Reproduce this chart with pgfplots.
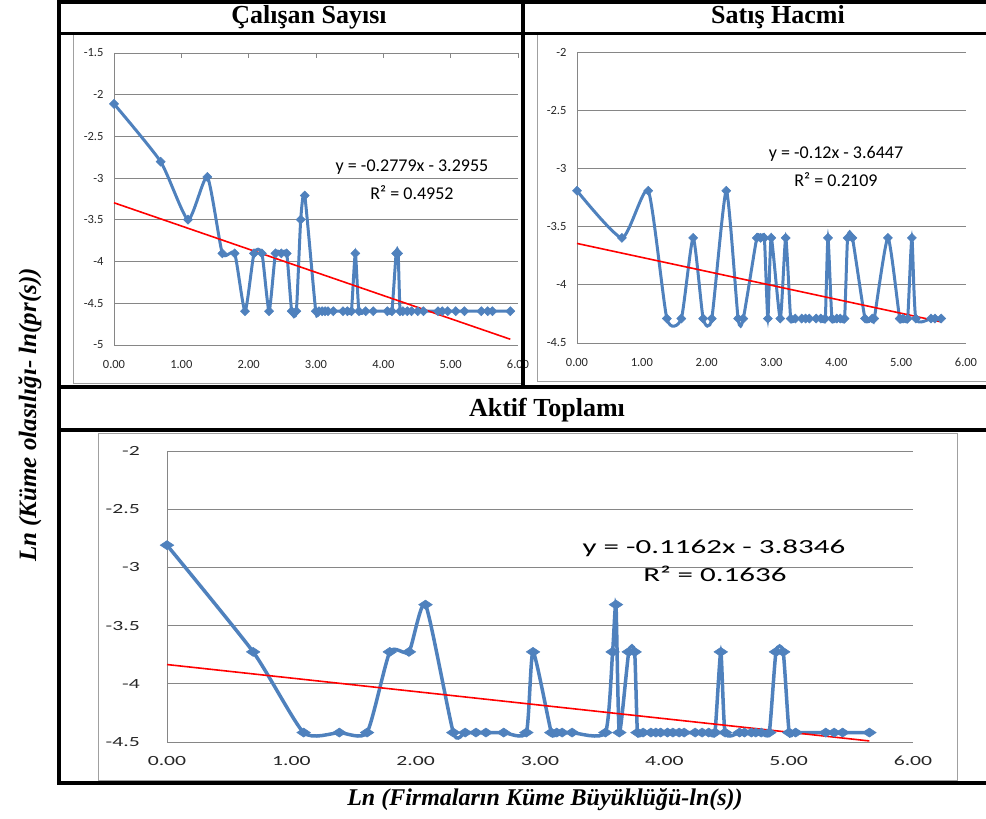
\documentclass[border=0pt]{standalone}
\usepackage{fontspec}
\setmainfont{Liberation Serif}
\newfontfamily\calibri{Carlito}
\usepackage{pgfplots}
\pgfplotsset{compat=1.18}
\definecolor{exblue}{RGB}{79,129,189}
\definecolor{gridc}{RGB}{134,134,134}
\definecolor{areac}{RGB}{160,160,160}

\pgfplotsset{
  xl/.style={
    scale only axis, clip=false,
    xmin=0, xmax=6,
    axis line style={draw=none},
    xtick={0,1,2,3,4,5,6},
    xticklabels={0.00,1.00,2.00,3.00,4.00,5.00,6.00},
    ymajorgrids,
    major grid style={draw=gridc, line width=0.9pt},
    extra x ticks={0}, extra x tick labels={},
    extra x tick style={grid=major},
    ytick style={draw=none},
  },
  ser/.style={color=exblue, line width=3pt, smooth, tension=0.35, mark=diamond*, mark size=4.5pt,
    mark options={line width=0.6pt, xscale=1.33, solid}},
  trend/.style={color=red, line width=1.6pt, no marks},
}

\begin{document}
\begin{tikzpicture}
\path[use as bounding box] (0,0) rectangle (986pt,819pt);
% chart areas
\draw[areac, line width=1pt] (73.5pt,435pt) rectangle (522pt,784pt);
\draw[areac, line width=1pt] (537pt,437pt) rectangle (995pt,784pt);
\draw[areac, line width=1pt] (98pt,38pt) rectangle (957pt,385pt);

% ---------- Calisan Sayisi ----------
\begin{axis}[xl, at={(114pt,474pt)}, anchor=south west, width=404pt, height=292pt,
  ymin=-5, ymax=-1.5,
  ytick={-5,-4.5,-4,-3.5,-3,-2.5,-2,-1.5},
  yticklabels={-5,-4.5,-4,-3.5,-3,-2.5,-2,-1.5},
  xtick pos=right, xticklabel pos=left,
  xtick style={draw=gridc, line width=0.9pt}, major tick length=5pt,
  tick label style={font=\calibri\fontsize{12.5}{14}\selectfont, text=black!85},
  xticklabel style={yshift=-12pt}, yticklabel style={xshift=-7pt}]
\addplot[ser] coordinates {(0,-2.110)(0.693,-2.803)(1.099,-3.497)(1.386,-2.986)(1.609,-3.902)(1.792,-3.902)(1.946,-4.595)(2.079,-3.902)(2.197,-3.902)(2.303,-4.595)(2.398,-3.902)(2.485,-3.902)(2.565,-3.902)(2.639,-4.595)(2.708,-4.595)(2.773,-3.497)(2.833,-3.209)(2.996,-4.595)(3.045,-4.595)(3.091,-4.595)(3.135,-4.595)(3.178,-4.595)(3.258,-4.595)(3.401,-4.595)(3.466,-4.595)(3.526,-4.595)(3.584,-3.902)(3.638,-4.595)(3.738,-4.595)(3.850,-4.595)(4.060,-4.595)(4.127,-4.595)(4.190,-3.902)(4.220,-3.902)(4.248,-4.595)(4.290,-4.595)(4.357,-4.595)(4.419,-4.595)(4.511,-4.595)(4.595,-4.595)(4.812,-4.595)(4.875,-4.595)(4.956,-4.595)(5.075,-4.595)(5.204,-4.595)(5.455,-4.595)(5.549,-4.595)(5.620,-4.595)(5.886,-4.595)};
\addplot[trend] coordinates {(0,-3.2955)(5.886,-4.9312)};
\end{axis}

% ---------- Satis Hacmi ----------
\begin{axis}[xl, at={(577pt,476pt)}, anchor=south west, width=389pt, height=291pt,
  ymin=-4.5, ymax=-2,
  ytick={-4.5,-4,-3.5,-3,-2.5,-2},
  yticklabels={-4.5,-4,-3.5,-3,-2.5,-2},
  xtick style={draw=none},
  tick label style={font=\calibri\fontsize{12.5}{14}\selectfont, text=black!85},
  xticklabel style={yshift=-12pt}, yticklabel style={xshift=-7pt}]
\addplot[ser] coordinates {(0,-3.192)(0.693,-3.597)(1.099,-3.192)(1.386,-4.290)(1.609,-4.290)(1.792,-3.597)(1.946,-4.290)(2.079,-4.290)(2.303,-3.192)(2.485,-4.290)(2.565,-4.290)(2.773,-3.597)(2.833,-3.597)(2.890,-3.597)(2.944,-4.290)(2.996,-3.597)(3.135,-4.290)(3.219,-3.597)(3.296,-4.290)(3.367,-4.290)(3.466,-4.290)(3.526,-4.290)(3.584,-4.290)(3.689,-4.290)(3.761,-4.290)(3.829,-4.290)(3.871,-3.597)(3.932,-4.290)(4.007,-4.290)(4.060,-4.290)(4.127,-4.290)(4.174,-3.597)(4.248,-3.597)(4.443,-4.290)(4.554,-4.290)(4.585,-4.290)(4.796,-3.597)(4.977,-4.290)(5.030,-4.290)(5.100,-4.290)(5.165,-3.597)(5.226,-4.290)(5.460,-4.290)(5.521,-4.290)(5.617,-4.290)};
\addplot[trend] coordinates {(0,-3.6447)(5.617,-4.3187)};
\end{axis}

% ---------- Aktif Toplami ----------
\begin{axis}[xl, at={(167pt,77pt)}, anchor=south west, width=746pt, height=291pt,
  ymin=-4.5, ymax=-2,
  ytick={-4.5,-4,-3.5,-3,-2.5,-2},
  yticklabels={-4.5,-4,-3.5,-3,-2.5,-2},
  xtick style={draw=none},
  tick label style={font=\calibri\fontsize{14}{16}\selectfont, text=black!85, xscale=1.55},
  xticklabel style={yshift=-11pt}, yticklabel style={xshift=-14pt}]
\addplot[ser, line width=3.5pt, mark size=4.5pt, mark options={line width=0.6pt, xscale=2.0, solid}] coordinates {(0,-2.809)(0.693,-3.726)(1.099,-4.419)(1.386,-4.419)(1.609,-4.419)(1.792,-3.726)(1.946,-3.726)(2.079,-3.320)(2.303,-4.419)(2.398,-4.419)(2.485,-4.419)(2.565,-4.419)(2.708,-4.419)(2.890,-4.419)(2.944,-3.726)(3.091,-4.419)(3.135,-4.419)(3.178,-4.419)(3.258,-4.419)(3.526,-4.419)(3.584,-3.726)(3.611,-3.320)(3.638,-4.419)(3.714,-3.726)(3.761,-3.726)(3.784,-4.419)(3.829,-4.419)(3.892,-4.419)(3.932,-4.419)(3.970,-4.419)(4.025,-4.419)(4.069,-4.419)(4.119,-4.419)(4.159,-4.419)(4.248,-4.419)(4.304,-4.419)(4.357,-4.419)(4.407,-4.419)(4.454,-3.726)(4.489,-4.419)(4.605,-4.419)(4.644,-4.419)(4.700,-4.419)(4.736,-4.419)(4.779,-4.419)(4.844,-4.419)(4.898,-3.726)(4.956,-3.726)(5.004,-4.419)(5.056,-4.419)(5.298,-4.419)(5.366,-4.419)(5.434,-4.419)(5.649,-4.419)};
\addplot[trend] coordinates {(0,-3.8346)(5.649,-4.4910)};
\end{axis}

% trendline equations
\node[font=\calibri\fontsize{18}{20}\selectfont] at (412pt,652pt) {y = -0.2779x - 3.2955};
\node[font=\calibri\fontsize{18}{20}\selectfont] at (412pt,626pt) {R² = 0.4952};
\node[font=\calibri\fontsize{18}{20}\selectfont] at (836pt,665pt) {y = -0.12x - 3.6447};
\node[font=\calibri\fontsize{18}{20}\selectfont] at (836pt,639pt) {R² = 0.2109};
\node[font=\calibri\fontsize{20}{22}\selectfont, xscale=1.55] at (714pt,271pt) {y = -0.1162x - 3.8346};
\node[font=\calibri\fontsize{20}{22}\selectfont, xscale=1.55] at (715pt,245pt) {R² = 0.1636};

% table frame
\begin{scope}[line width=3.5pt, black]
\draw (57pt,817pt) -- (990pt,817pt);
\draw (59pt,819pt) -- (59pt,34pt);
\draw (57pt,785.5pt) -- (990pt,785.5pt);
\draw (523pt,819pt) -- (523pt,432pt);
\draw (57pt,432pt) -- (990pt,432pt);
\draw (57pt,389pt) -- (990pt,389pt);
\draw (57pt,36pt) -- (990pt,36pt);
\end{scope}

% titles
\node[font=\bfseries\fontsize{26}{30}\selectfont] at (309pt,802pt) {Çalışan Sayısı};
\node[font=\bfseries\fontsize{26}{30}\selectfont] at (778pt,802pt) {Satış Hacmi};
\node[font=\bfseries\fontsize{26}{30}\selectfont] at (547pt,409pt) {Aktif Toplamı};
\node[rotate=90, font=\bfseries\itshape\fontsize{25}{29}\selectfont] at (30pt,404pt) {Ln (Küme olasılığı- ln(pr(s))};
\node[font=\bfseries\itshape\fontsize{24}{28}\selectfont] at (545pt,19pt) {Ln (Firmaların Küme Büyüklüğü-ln(s))};
\end{tikzpicture}
\end{document}
